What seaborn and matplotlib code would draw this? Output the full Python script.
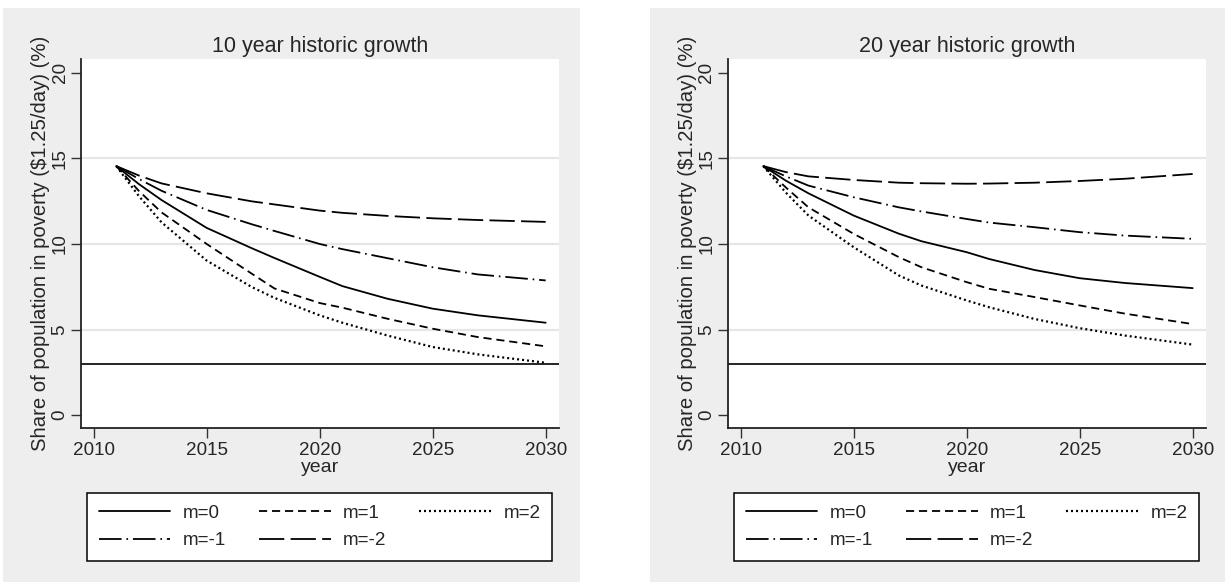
import matplotlib
matplotlib.use("Agg")
import matplotlib.pyplot as plt
from matplotlib.patches import Rectangle
from matplotlib.lines import Line2D
import seaborn as sns
import pandas as pd

# ---- data -------------------------------------------------------------
years = [2011, 2012, 2013, 2015, 2017, 2018, 2020, 2021, 2023, 2025, 2027, 2030]

# 10 year historic growth scenario
g10_m0 = [14.55, 13.50, 12.57, 10.94, 9.75, 9.18, 8.08, 7.54, 6.80, 6.22, 5.83, 5.40]
g10_m1 = [14.55, 13.10, 11.85, 10.00, 8.26, 7.40, 6.55, 6.28, 5.63, 5.05, 4.56, 4.02]
g10_m2 = [14.55, 12.80, 11.27, 9.03, 7.48, 6.85, 5.83, 5.40, 4.65, 3.98, 3.55, 3.06]
g10_mm1 = [14.55, 13.80, 13.11, 11.99, 11.15, 10.76, 10.00, 9.70, 9.17, 8.64, 8.22, 7.87]
g10_mm2 = [14.55, 14.00, 13.54, 12.96, 12.49, 12.31, 11.95, 11.82, 11.64, 11.50, 11.40, 11.29]

# 20 year historic growth scenario
g20_m0 = [14.55, 13.70, 12.96, 11.66, 10.60, 10.16, 9.52, 9.12, 8.48, 8.00, 7.72, 7.42]
g20_m1 = [14.55, 13.30, 12.14, 10.59, 9.23, 8.64, 7.77, 7.38, 6.90, 6.41, 5.93, 5.32]
g20_m2 = [14.55, 13.00, 11.66, 9.81, 8.16, 7.57, 6.70, 6.30, 5.62, 5.08, 4.65, 4.12]
g20_mm1 = [14.55, 13.95, 13.41, 12.73, 12.14, 11.90, 11.46, 11.25, 10.98, 10.69, 10.49, 10.30]
g20_mm2 = [14.55, 14.20, 13.95, 13.74, 13.58, 13.55, 13.52, 13.53, 13.58, 13.68, 13.81, 14.09]

series_labels = ["m=0", "m=1", "m=2", "m=-1", "m=-2"]
panel_titles = ["10 year historic growth", "20 year historic growth"]
target_line = 3
y_ticks = [0, 5, 10, 15, 20]
x_ticks = [2010, 2015, 2020, 2025, 2030]
y_label = "Share of population in poverty (\\$1.25/day) (%)"
x_label = "year"

panels = [
    [g10_m0, g10_m1, g10_m2, g10_mm1, g10_mm2],
    [g20_m0, g20_m1, g20_m2, g20_mm1, g20_mm2],
]

# ---- styling ----------------------------------------------------------
sns.set_style("ticks")
plt.rcParams["font.family"] = ["Liberation Sans", "DejaVu Sans"]

LW = 1.3
line_styles = {
    "m=0": ("-", LW),
    "m=1": ((0, (4.5, 2.7)), LW),
    "m=2": ((0, (0.9, 1.35)), 1.6),
    "m=-1": ((0, (12.5, 2.7, 0.9, 2.7)), LW),
    "m=-2": ((0, (14, 3.5)), LW),
}
GRAY_BG = "#eeeeee"

W, H = 1225, 582
fig = plt.figure(figsize=(W / 100, H / 100), dpi=100)
fig.patch.set_facecolor("white")

# panel offsets in pixels; grey panel backgrounds sit behind the axes
panel_dx = [0, 647]
for dx in panel_dx:
    fig.patches.append(Rectangle(((3 + dx) / W, 0), 577 / W, (H - 8) / H,
                                 transform=fig.transFigure, facecolor=GRAY_BG,
                                 edgecolor="none", zorder=-5))

ax_left, ax_right, ax_top, ax_bot = 81, 559, 59.3, 428.3

for p, (dx, series, title) in enumerate(zip(panel_dx, panels, panel_titles)):
    ax = fig.add_axes([(ax_left + dx) / W, (H - ax_bot) / H,
                       (ax_right - ax_left) / W, (ax_bot - ax_top) / H])
    ax.set_zorder(1)
    ax.set_facecolor("white")

    # horizontal grid at inner ticks only
    for gy in y_ticks[1:-1]:
        ax.axhline(gy, color="#e6e6e6", lw=1.6, zorder=1)

    ax.axhline(target_line, color="black", lw=1.2, zorder=2)

    handles = {}
    for lab, vals in zip(series_labels, series):
        ls, lw = line_styles[lab]
        df = pd.DataFrame({"year": years, "share": vals})
        sns.lineplot(data=df, x="year", y="share", ax=ax, color="black",
                     lw=lw, linestyle=ls, legend=False, zorder=3)
        handles[lab] = Line2D([], [], color="black", lw=lw, linestyle=ls)

    ax.set_xlim(2009.44, 2030.59)
    ax.set_ylim(-0.77, 20.79)
    ax.set_xticks(x_ticks)
    ax.set_yticks(y_ticks)
    ax.set_xticklabels([str(t) for t in x_ticks], fontsize=13.6)
    ax.set_yticklabels([str(t) for t in y_ticks], fontsize=13.6,
                       rotation=90, va="center")
    ax.tick_params(axis="both", direction="out", length=7, width=1,
                   color="#333333", pad=3)
    ax.tick_params(axis="y", pad=2)
    for s in ["top", "right"]:
        ax.spines[s].set_visible(False)
    for s in ["left", "bottom"]:
        ax.spines[s].set_color("#222222")
        ax.spines[s].set_linewidth(1.3)

    ax.set_title(title, fontsize=15.5, pad=5)
    ax.set_xlabel(x_label, fontsize=14, labelpad=0)
    ax.set_ylabel(y_label, fontsize=14.6, labelpad=1)

    # legend: filled column-wise so rows read m=0, m=1, m=2 / m=-1, m=-2
    order = ["m=0", "m=-1", "m=1", "m=-2", "m=2"]
    lx0, lx1, ly0 = 87.3 + dx, 551.8 + dx, 493
    leg = fig.legend([handles[k] for k in order], order,
                     loc="upper left",
                     bbox_to_anchor=(lx0 / W, (H - ly0) / H - 0.2,
                                     (lx1 - lx0) / W, 0.2),
                     mode="expand", ncol=3, fontsize=13.6, frameon=True,
                     fancybox=False, edgecolor="black", facecolor="white",
                     framealpha=1, borderaxespad=0, handlelength=3.8,
                     handletextpad=0.65, labelspacing=0.55, borderpad=0.6)
    leg.get_frame().set_linewidth(1.1)

fig.savefig("out.png", dpi=100, facecolor=fig.get_facecolor())
